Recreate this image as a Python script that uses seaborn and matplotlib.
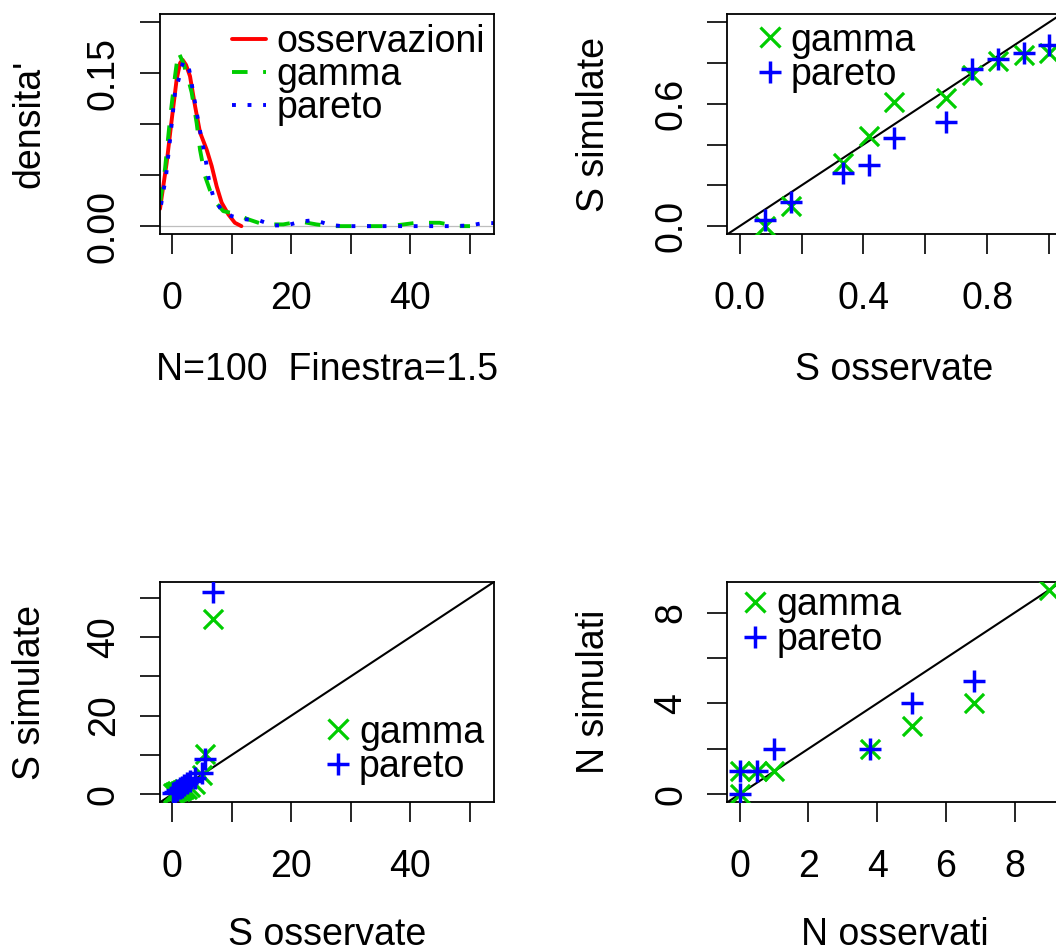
import matplotlib
matplotlib.use("Agg")
import matplotlib.pyplot as plt
from matplotlib.lines import Line2D
import numpy as np
import pandas as pd
import seaborn as sns

# ---------------- data ----------------
# panel 1: density curves
DENS_OBS_X = [-2.08, -0.96, -0.12, 0.72, 1.3, 1.72, 2.3, 2.96, 3.8, 4.64, 5.76, 6.6, 7.44, 8.28, 9.4, 10.5, 11.6]
DENS_OBS_Y = [0.017, 0.062, 0.104, 0.144, 0.160, 0.163, 0.158, 0.147, 0.118, 0.092, 0.075, 0.059, 0.039, 0.023, 0.0115, 0.0033, 0.0]
DENS_GAM_X = [-2.08, -1.24, -0.4, 0.44, 0.99, 1.83, 2.67, 3.24, 4.08, 4.64, 5.48, 6.87, 8.55, 11.07, 12.48, 15.27,
              18.63, 21.4, 24.2, 26.5, 36.6, 41.0, 44.9, 47.8, 50.0]
DENS_GAM_Y = [0.023, 0.056, 0.105, 0.147, 0.171, 0.160, 0.144, 0.131, 0.101, 0.075, 0.049, 0.026, 0.0147, 0.0115, 0.0072, 0.0017,
              0.0017, 0.0046, 0.0017, 0.0, 0.0, 0.0033, 0.0033, 0.0, 0.0]
DENS_PAR_X = [-1.9, -1.07, -0.3, 0.44, 1.16, 1.83, 2.84, 3.68, 4.52, 5.48, 6.2, 6.87, 8.1, 9.96, 12.4, 14.6,
              16.95, 19.2, 21.6, 23.95, 26.2, 28.4, 47.0, 50.0, 52.2, 54.1]
DENS_PAR_Y = [0.021, 0.049, 0.090, 0.131, 0.146, 0.162, 0.153, 0.125, 0.097, 0.069, 0.043, 0.029, 0.017, 0.0098, 0.0066, 0.0056,
              0.0007, 0.0007, 0.0046, 0.0059, 0.0017, 0.0, 0.0, 0.0007, 0.003, 0.003]

# panel 2: S observate vs S simulate (0-1)
P2_OBS = [0.083, 0.167, 0.333, 0.417, 0.5, 0.667, 0.75, 0.833, 0.917, 1.0]
P2_GAMMA = [0.0, 0.10, 0.31, 0.44, 0.61, 0.63, 0.74, 0.81, 0.84, 0.85]
P2_PARETO = [0.03, 0.12, 0.26, 0.30, 0.43, 0.51, 0.77, 0.82, 0.85, 0.89]

# panel 3: S observate vs S simulate (raw)
P3_OBS = [0.1, 0.4, 0.8, 1.2, 1.6, 2.0, 2.5, 3.0, 3.8, 4.9, 5.4, 6.9]
P3_GAMMA = [0.3, 0.6, 0.7, 0.8, 1.0, 1.2, 1.4, 1.8, 2.5, 4.8, 10.2, 44.6]
P3_PARETO = [0.3, 0.6, 1.0, 1.5, 1.9, 2.4, 2.9, 3.4, 4.0, 5.3, 9.0, 51.5]

# panel 4: N osservati vs N simulati
P4_OBS = [0, 0, 0.5, 1, 3.8, 5, 6.8, 9]
P4_GAMMA = [0, 1, 1, 1, 2, 3, 4, 9]
P4_PARETO = [0, 1, 1, 2, 2, 4, 5, 10]

RED = "#FF0000"
GREEN = "#00CD00"
BLUE = "#0000FF"
FS = 27

sns.set_style("ticks")
plt.rcParams['font.family'] = ['Liberation Sans', 'DejaVu Sans']
plt.rcParams['font.size'] = FS
plt.rcParams['axes.linewidth'] = 1.3
plt.rcParams['text.color'] = 'black'
plt.rcParams['axes.labelcolor'] = 'black'
plt.rcParams['xtick.color'] = 'black'
plt.rcParams['ytick.color'] = 'black'

fig = plt.figure(figsize=(10.56, 9.5), dpi=100)
W, H = 1056.0, 950.0


def make_ax(left_px, top_px, w_px, h_px):
    return fig.add_axes([left_px / W, (H - top_px - h_px) / H, w_px / W, h_px / H])


ax1 = make_ax(160, 14, 334.3, 220.3)
ax2 = make_ax(727.3, 14, 334.3, 220.3)
ax3 = make_ax(160, 581.7, 334.3, 220.6)
ax4 = make_ax(727.3, 581.7, 334.3, 220.6)


def style(ax, xticks, xlabels, yticks, ylabels, xlim, ylim, xlab, ylab, ylab_x, xlab_y):
    ax.set_xlim(*xlim)
    ax.set_ylim(*ylim)
    ax.set_xticks(xticks)
    ax.set_xticklabels(xlabels)
    ax.set_yticks(yticks)
    ax.set_yticklabels(ylabels, rotation=90, va='center')
    ax.tick_params(axis='both', direction='out', length=14.4, width=1.2, labelsize=FS,
                   colors='black', labelcolor='black')
    ax.tick_params(axis='x', pad=19)
    ax.tick_params(axis='y', pad=13)
    for s in ax.spines.values():
        s.set_visible(True)
        s.set_color('black')
        s.set_linewidth(1.3)
    ax.set_xlabel(xlab, fontsize=FS, color='black')
    ax.set_ylabel(ylab, fontsize=FS, color='black')
    ax.xaxis.set_label_coords(0.5, xlab_y)
    ax.xaxis.label.set_va('center')
    ax.yaxis.set_label_coords(ylab_x, 0.5)
    ax.yaxis.label.set_va('center')
    ax.grid(False)
    ax.set_facecolor('white')


# ---------- panel 1 ----------
lw = 2.8
ax1.axhline(0, color='#BEBEBE', lw=0.9, zorder=0)
sns.lineplot(x=DENS_OBS_X, y=DENS_OBS_Y, ax=ax1, color=RED, lw=lw, sort=False, estimator=None)
sns.lineplot(x=DENS_GAM_X, y=DENS_GAM_Y, ax=ax1, color=GREEN, lw=lw, sort=False, estimator=None)
sns.lineplot(x=DENS_PAR_X, y=DENS_PAR_Y, ax=ax1, color=BLUE, lw=lw, sort=False, estimator=None)
lines = ax1.get_lines()
lines[-2].set_dashes([4, 4])
lines[-1].set_dashes([1, 3])
style(ax1, [0, 10, 20, 30, 40, 50], ['0', '', '20', '', '40', ''],
      [0, 0.05, 0.10, 0.15, 0.20], ['0.00', '', '', '0.15', ''],
      (-2.08, 54.08), (-0.008, 0.208), 'N=100  Finestra=1.5', "densita'", -0.39, -0.615)
h1 = [Line2D([], [], color=RED, lw=lw),
      Line2D([], [], color=GREEN, lw=lw, dashes=[4, 4]),
      Line2D([], [], color=BLUE, lw=lw, dashes=[1, 3])]
ax1.legend(h1, ['osservazioni', 'gamma', 'pareto'], loc='upper left', bbox_to_anchor=(0.205, 0.972),
           frameon=False, fontsize=FS, borderpad=0.1, borderaxespad=0, handlelength=0.9,
           handletextpad=0.28, labelspacing=-0.08)


def scatter_pair(ax, x, g, p):
    sns.scatterplot(x=x, y=g, ax=ax, marker='x', s=190, color=GREEN, linewidth=2.3, zorder=3)
    sns.scatterplot(x=x, y=p, ax=ax, marker='+', s=260, color=BLUE, linewidth=2.5, zorder=4)
    ax.axline((0, 0), slope=1, color='black', lw=1.5, zorder=2)


def pt_legend(ax, anchor):
    hh = [Line2D([], [], ls='', marker='x', color=GREEN, markersize=13.7, mew=2.3),
          Line2D([], [], ls='', marker='+', color=BLUE, markersize=16, mew=2.5)]
    ax.legend(hh, ['gamma', 'pareto'], loc='upper left', bbox_to_anchor=anchor, frameon=False,
              fontsize=FS, borderpad=0.1, borderaxespad=0, handlelength=1.0, handletextpad=0.06,
              labelspacing=-0.03)


# ---------- panel 2 ----------
scatter_pair(ax2, P2_OBS, P2_GAMMA, P2_PARETO)
style(ax2, [0, 0.2, 0.4, 0.6, 0.8, 1.0], ['0.0', '', '0.4', '', '0.8', ''],
      [0, 0.2, 0.4, 0.6, 0.8, 1.0], ['0.0', '', '', '0.6', '', ''],
      (-0.04, 1.04), (-0.04, 1.04), 'S osservate', 'S simulate', -0.40, -0.615)
pt_legend(ax2, (0.059, 0.978))

# ---------- panel 3 ----------
scatter_pair(ax3, P3_OBS, P3_GAMMA, P3_PARETO)
style(ax3, [0, 10, 20, 30, 40, 50], ['0', '', '20', '', '40', ''],
      [0, 10, 20, 30, 40, 50], ['0', '', '20', '', '40', ''],
      (-2.08, 54.08), (-2.08, 54.08), 'S osservate', 'S simulate', -0.39, -0.60)
pt_legend(ax3, (0.465, 0.415))

# ---------- panel 4 ----------
scatter_pair(ax4, P4_OBS, P4_GAMMA, P4_PARETO)
style(ax4, [0, 2, 4, 6, 8], ['0', '2', '4', '6', '8'],
      [0, 2, 4, 6, 8], ['0', '', '4', '', '8'],
      (-0.36, 9.36), (-0.36, 9.36), 'N osservati', 'N simulati', -0.40, -0.60)
pt_legend(ax4, (0.016, 0.992))

fig.savefig("out.png", dpi=100, facecolor='white')
